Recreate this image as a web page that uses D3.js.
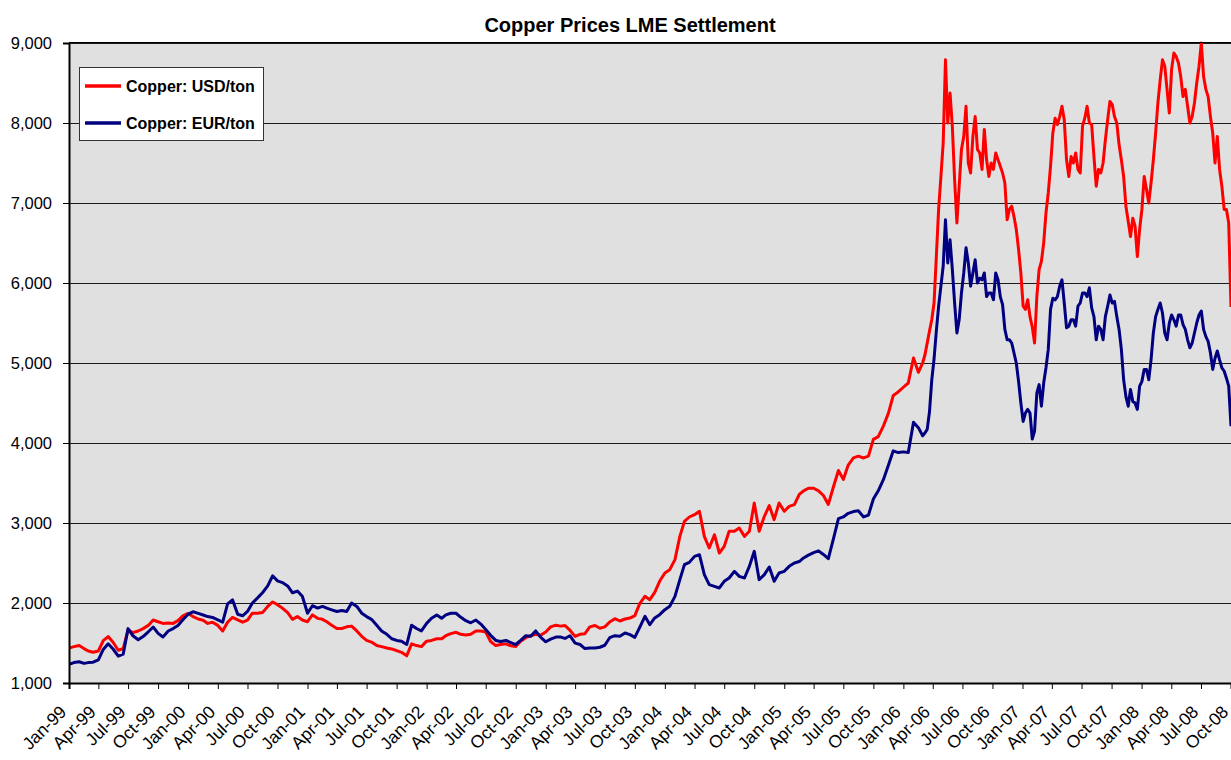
<!DOCTYPE html>
<html><head><meta charset="utf-8">
<script src="https://cdn.jsdelivr.net/npm/d3@7"></script>
<style>
body{margin:0;background:#fff}
text{font-family:"Liberation Sans",Arial,sans-serif;fill:#000}
</style>
</head><body><svg id="c" width="1231" height="760"></svg>
<script>
const chartTitle = "Copper Prices LME Settlement";
const seriesNames = ["Copper: USD/ton", "Copper: EUR/ton"];
const seriesColors = ["#ff0000", "#000080"];
const yTickValues = [1000, 2000, 3000, 4000, 5000, 6000, 7000, 8000, 9000];

// Semi-monthly readings (1st and 16th of each month), Jan 1999 – Feb 2006
const usdSemiMonthly = [
  1438,1455,1468,1430,1400,1385,1400,1530,1580,1510,1410,1430,1660,1630,1650,1680,1720,1787,1766,1745,1750,1745,1780,1840,
  1870,1830,1800,1785,1745,1760,1720,1650,1760,1820,1790,1760,1787,1872,1872,1880,1957,2013,1979,1936,1880,1796,1830,1787,
  1766,1851,1808,1796,1766,1723,1681,1681,1702,1711,1651,1583,1532,1511,1468,1455,1438,1426,1404,1383,1340,1489,1468,1455,
  1523,1532,1553,1553,1591,1617,1634,1609,1600,1609,1651,1651,1638,1519,1468,1481,1489,1464,1455,1523,1566,1591,1609,1596,
  1638,1702,1723,1711,1719,1660,1583,1609,1617,1702,1719,1685,1702,1762,1804,1775,1800,1812,1842,1992,2083,2042,2133,2271,
  2375,2417,2542,2833,3021,3075,3104,3146,2833,2688,2854,2625,2708,2896,2896,2938,2833,2896,3250,2896,3083,3217,3042,3250,
  3146,3208,3229,3357,3402,3434,3434,3402,3344,3232,3456,3657,3545,3724,3813,3835,3813,3835,4045,4080,4214,4371,4594,4638,
  4697,4750,5063,4884
];
const eurSemiMonthly = [
  1234,1255,1265,1245,1255,1260,1290,1420,1490,1425,1335,1360,1680,1590,1540,1580,1640,1700,1620,1575,1650,1680,1720,1790,
  1860,1890,1870,1850,1830,1820,1790,1760,1990,2040,1860,1840,1894,2000,2064,2128,2213,2340,2277,2255,2213,2128,2149,2085,
  1872,1966,1936,1957,1936,1915,1894,1906,1894,2000,1957,1872,1830,1796,1723,1651,1609,1553,1532,1523,1481,1723,1681,1651,
  1745,1809,1851,1809,1851,1872,1872,1821,1779,1753,1787,1736,1668,1596,1532,1519,1532,1506,1481,1532,1591,1583,1651,1574,
  1515,1549,1574,1574,1557,1591,1498,1481,1430,1438,1438,1447,1472,1566,1591,1583,1625,1604,1571,1696,1833,1729,1813,1854,
  1917,1958,2083,2292,2479,2508,2583,2604,2354,2229,2208,2188,2271,2313,2396,2333,2313,2458,2646,2292,2354,2450,2271,2375,
  2396,2458,2500,2518,2563,2598,2630,2652,2607,2554,2808,3054,3076,3121,3143,3152,3076,3099,3300,3402,3545,3723,3902,3880,
  3889,3880,4259,4192
];

// Weekly readings from 1 Mar 2006 to 1 Oct 2008
const usdWeekly = [
  5000,5100,5250,5400,5540,5750,6330,6920,7330,7750,
  8790,8000,8375,7960,7290,6750,7210,7670,7830,8210,
  7500,7375,7830,8080,7670,7625,7420,7920,7540,7330,
  7500,7420,7625,7540,7460,7375,7250,6790,6920,6960,
  6830,6670,6420,6125,5710,5670,5790,5580,5450,5250,
  5830,6170,6270,6500,6875,7125,7460,7875,8060,7980,
  8080,8210,8040,7540,7330,7580,7500,7625,7420,7375,
  7960,8060,8210,8000,7980,7580,7210,7420,7375,7500,
  7790,8040,8270,8230,8080,8000,7730,7540,7330,6960,
  6770,6580,6810,6710,6330,6670,6920,7330,7170,7000,
  7250,7540,7875,8250,8540,8790,8710,8420,8125,8670,
  8875,8830,8750,8580,8330,8420,8210,8000,8080,8250,
  8500,8710,9000,8580,8420,8330,8080,7875,7500,7830,
  7420,7210,6920,6920,6750,5700
];
const eurWeekly = [
  4090,4125,4170,4390,4790,5050,5400,5710,5960,6210,
  6790,6250,6540,6170,5750,5375,5540,5875,6125,6440,
  6250,5960,6125,6290,6000,6060,6040,6125,5830,5875,
  5875,5790,6125,6040,5830,5730,5420,5290,5290,5250,
  5125,5000,4770,4500,4270,4375,4420,4375,4050,4150,
  4625,4730,4460,4750,4940,5170,5670,5810,5790,5830,
  5960,6040,5750,5440,5460,5540,5540,5460,5710,5750,
  5875,5875,5830,5940,5690,5580,5290,5460,5420,5290,
  5580,5710,5850,5750,5770,5580,5420,5170,4790,4580,
  4460,4670,4520,4500,4420,4710,4770,4920,4920,4790,
  5040,5375,5580,5670,5750,5625,5375,5290,5500,5600,
  5540,5460,5600,5600,5480,5420,5290,5190,5250,5375,
  5500,5600,5650,5420,5330,5270,5125,4920,5060,5150,
  5040,4940,4900,4810,4710,4210
];

const axisStart = new Date(1999, 0, 1);
const axisEnd = new Date(2008, 9, 1);

const semiDates = usdSemiMonthly.map((_, k) => new Date(1999, Math.floor(k / 2), k % 2 ? 16 : 1));
const weekDates = usdWeekly.map((_, j) => d3.timeDay.offset(new Date(2006, 2, 1), 7 * j));
const allDates = semiDates.concat(weekDates);
const usdAll = usdSemiMonthly.concat(usdWeekly);
const eurAll = eurSemiMonthly.concat(eurWeekly);
const seriesData = [usdAll, eurAll];

const svg = d3.select("#c");
const W = 1231, H = 760;
const m = {left: 69, right: 0, top: 43, bottom: 77};
const x = d3.scaleTime().domain([axisStart, axisEnd]).range([m.left, W - m.right]);
const y = d3.scaleLinear().domain([1000, 9000]).range([H - m.bottom, m.top]);

svg.append("rect").attr("width", W).attr("height", H).attr("fill", "#fff");

// plot area
svg.append("rect").attr("x", m.left).attr("y", m.top).attr("width", W - m.left).attr("height", y(1000) - m.top)
  .attr("fill", "#e0e0e0");

// gridlines
svg.append("g").selectAll("line").data(yTickValues.filter(v => v > 1000)).join("line")
  .attr("x1", m.left).attr("x2", W).attr("y1", d => Math.round(y(d)) + 0.5).attr("y2", d => Math.round(y(d)) + 0.5)
  .attr("stroke", "#1a1a1a").attr("stroke-width", 1);

svg.append("defs").append("clipPath").attr("id", "pc").append("rect")
  .attr("x", m.left).attr("y", m.top - 2).attr("width", W - m.left).attr("height", y(1000) - m.top + 2);

const line = d3.line().x((d, i) => x(allDates[i])).y(d => y(d)).curve(d3.curveLinear);
const lg = svg.append("g").attr("clip-path", "url(#pc)");
seriesData.forEach((s, i) => {
  lg.append("path").attr("d", line(s)).attr("fill", "none").attr("stroke", seriesColors[i])
    .attr("stroke-width", 3).attr("stroke-linejoin", "round");
});

// y axis
const yAxis = svg.append("g").attr("transform", `translate(${m.left},0)`)
  .call(d3.axisLeft(y).tickValues(yTickValues).tickFormat(d3.format(",")).tickSize(6).tickPadding(11));
yAxis.select(".domain").attr("stroke", "#000").attr("stroke-width", 2);
yAxis.selectAll(".tick line").attr("stroke", "#000").attr("stroke-width", 1);
yAxis.selectAll("text").attr("font-size", 16.5).attr("fill", "#000");

// x axis
const xTicks = d3.timeMonth.every(3).range(axisStart, d3.timeDay.offset(axisEnd, 1));
const xAxis = svg.append("g").attr("transform", `translate(0,${y(1000)})`)
  .call(d3.axisBottom(x).tickValues(xTicks).tickFormat(d3.timeFormat("%b-%y")).tickSize(6));
xAxis.select(".domain").attr("stroke", "#000").attr("stroke-width", 2);
xAxis.selectAll(".tick line").attr("stroke", "#000").attr("stroke-width", 1);
xAxis.selectAll("text").attr("font-size", 17.5).attr("fill", "#000")
  .attr("text-anchor", "end").attr("dy", null).attr("y", 0)
  .attr("transform", "translate(-2,30) rotate(-45)");

// top border
svg.append("line").attr("x1", m.left).attr("x2", W).attr("y1", m.top - 0.5).attr("y2", m.top - 0.5)
  .attr("stroke", "#000").attr("stroke-width", 1);

// title
svg.append("text").attr("x", 630).attr("y", 32).attr("text-anchor", "middle")
  .attr("font-size", 20).attr("font-weight", "bold").text(chartTitle);

// legend
const leg = svg.append("g");
leg.append("rect").attr("x", 79.5).attr("y", 67.5).attr("width", 184).attr("height", 73)
  .attr("fill", "#fff").attr("stroke", "#333").attr("stroke-width", 1);
seriesNames.forEach((n, i) => {
  const yy = 86 + i * 37;
  leg.append("line").attr("x1", 85).attr("x2", 121).attr("y1", yy).attr("y2", yy)
    .attr("stroke", seriesColors[i]).attr("stroke-width", 3.5);
  leg.append("text").attr("x", 126).attr("y", yy + 6).attr("font-size", 16).attr("font-weight", "bold").text(n);
});
</script>
</body></html>
